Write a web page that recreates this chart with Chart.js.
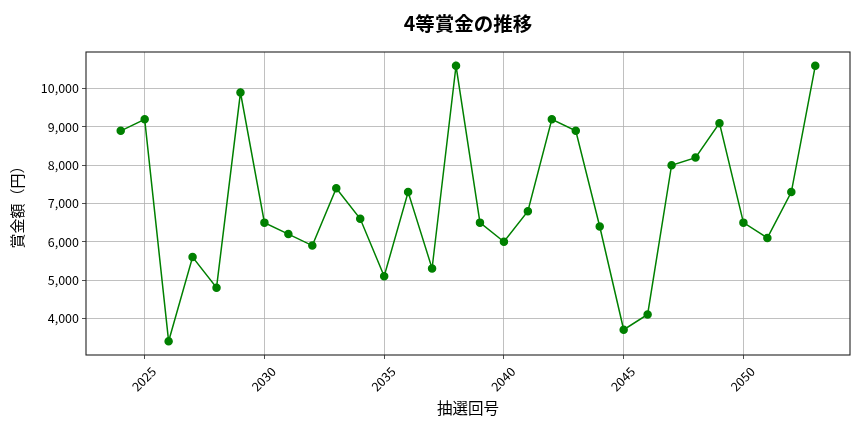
<!DOCTYPE html>
<html><head><meta charset="utf-8">
<script src="https://cdn.jsdelivr.net/npm/chart.js@4/dist/chart.umd.min.js"></script>
<style>html,body{margin:0;padding:0;background:#fff}#w{width:864px;height:432px}</style>
</head><body><div id="w"><canvas id="c"></canvas></div>
<script>
const draws = [2024,2025,2026,2027,2028,2029,2030,2031,2032,2033,2034,2035,2036,2037,2038,2039,2040,2041,2042,2043,2044,2045,2046,2047,2048,2049,2050,2051,2052,2053];
const prizes = [8900,9200,3400,5600,4800,9900,6500,6200,5900,7400,6600,5100,7300,5300,10600,6500,6000,6800,9200,8900,6400,3700,4100,8000,8200,9100,6500,6100,7300,10600];
const xTicks = [2025,2030,2035,2040,2045,2050];
const yTicks = [4000,5000,6000,7000,8000,9000,10000];
const titleText = '4等賞金の推移';
const xLabel = '抽選回号';
const yLabel = '賞金額（円）';

const FONT = "'Noto Sans CJK JP','Noto Sans',sans-serif";
const xSpan = draws[draws.length-1]-draws[0];
const yMinD = Math.min(...prizes), yMaxD = Math.max(...prizes), ySpan = yMaxD-yMinD;

const frame = {
  id:'frame',
  afterDatasetsDraw(chart){
    const {ctx, chartArea:a} = chart;
    ctx.save(); ctx.strokeStyle='#222'; ctx.lineWidth=1.1;
    ctx.strokeRect(a.left, a.top, a.right-a.left, a.bottom-a.top);
    ctx.restore();
  }
};

new Chart(document.getElementById('c'), {
  type:'line',
  data:{ datasets:[{
    data: draws.map((d,i)=>({x:d,y:prizes[i]})),
    borderColor:'#008000', backgroundColor:'#008000',
    borderWidth:1.5, pointRadius:3.5, pointHoverRadius:3.5, tension:0
  }]},
  options:{
    responsive:true, maintainAspectRatio:false, animation:false,
    layout:{padding:{left:0,right:14,top:0,bottom:0}},
    plugins:{
      legend:{display:false}, tooltip:{enabled:false},
      title:{display:true, text:titleText, fullSize:false, color:'#000',
        font:{family:FONT,size:19.5,weight:'bold'}, padding:{top:12.3,bottom:16.3}}
    },
    scales:{
      x:{type:'linear', min:draws[0]-xSpan*0.05, max:draws[draws.length-1]+xSpan*0.05,
        afterBuildTicks(s){ s.ticks = xTicks.map(v=>({value:v})); },
        afterFit(s){ s.height = 77; },
        ticks:{color:'#000', font:{family:FONT,size:12.5}, maxRotation:45, minRotation:45, padding:5, labelOffset:9,
          callback:(v)=>String(v)},
        grid:{color:'#b0b0b0', lineWidth:0.8, tickLength:4, tickColor:'#222'},
        border:{display:false},
        title:{display:true, text:xLabel, color:'#000', font:{family:FONT,size:15.5}, padding:{top:0,bottom:15}}
      },
      y:{min:yMinD-ySpan*0.05, max:yMaxD+ySpan*0.05,
        afterBuildTicks(s){ s.ticks = yTicks.map(v=>({value:v})); },
        afterFit(s){ s.width = 86; },
        ticks:{color:'#000', font:{family:FONT,size:12.5}, padding:3,
          callback:(v)=>v.toLocaleString('en-US')},
        grid:{color:'#b0b0b0', lineWidth:0.8, tickLength:4, tickColor:'#222'},
        border:{display:false},
        title:{display:true, text:yLabel, color:'#000', font:{family:FONT,size:15}, padding:{top:8,bottom:0}}
      }
    }
  },
  plugins:[frame]
});
</script></body></html>
